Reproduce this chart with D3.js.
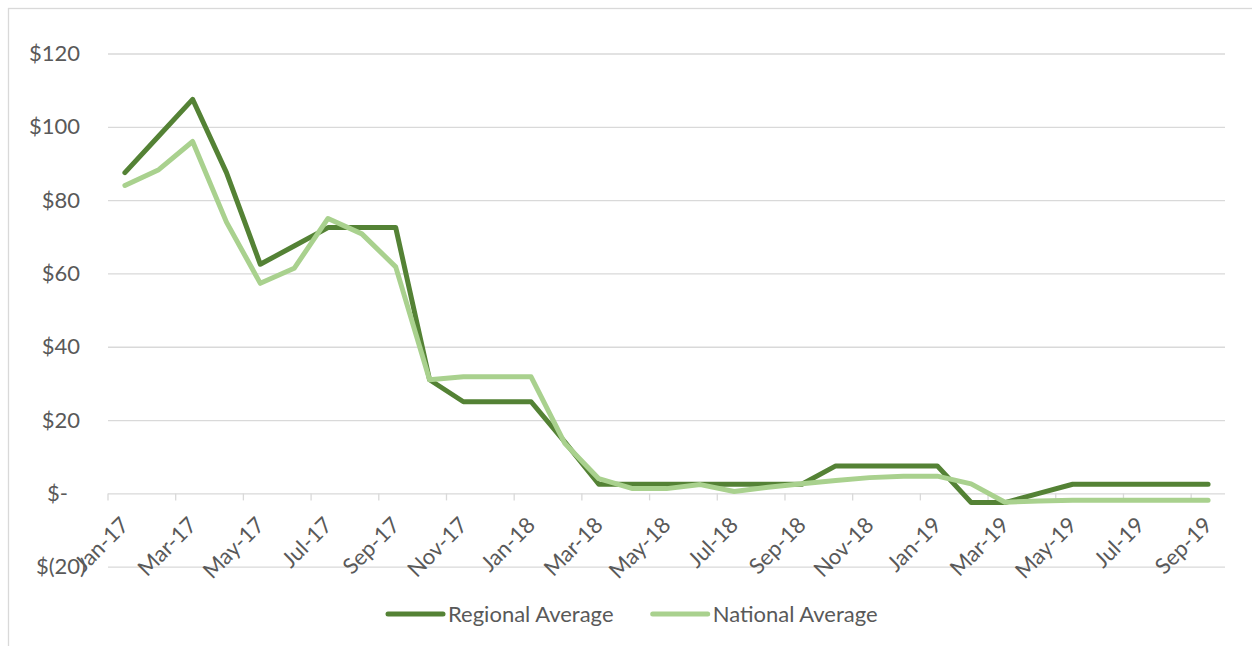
<!DOCTYPE html>
<html>
<head>
<meta charset="utf-8">
<script src="https://cdn.jsdelivr.net/npm/d3@7"></script>
<style>
  html, body { margin: 0; padding: 0; background: #fff; }
  svg { display: block; font-family: Lato, "Open Sans", sans-serif; }
</style>
</head>
<body>
<div id="chart"></div>
<script>
const months = [
  'Jan-17', 'Feb-17', 'Mar-17', 'Apr-17', 'May-17', 'Jun-17', 'Jul-17', 'Aug-17', 'Sep-17', 'Oct-17', 'Nov-17', 'Dec-17',
  'Jan-18', 'Feb-18', 'Mar-18', 'Apr-18', 'May-18', 'Jun-18', 'Jul-18', 'Aug-18', 'Sep-18', 'Oct-18', 'Nov-18', 'Dec-18',
  'Jan-19', 'Feb-19', 'Mar-19', 'Apr-19', 'May-19', 'Jun-19', 'Jul-19', 'Aug-19', 'Sep-19'
];

const regional = [
  87.5, 97.5, 107.5, 87.5, 62.5, 67.5, 72.5, 72.5, 72.5, 31, 25, 25,
  25, 14, 2.5, 2.5, 2.5, 2.5, 2.5, 2.5, 2.5, 7.5, 7.5, 7.5,
  7.5, -2.5, -2.5, 0, 2.5, 2.5, 2.5, 2.5, 2.5
];

const national = [
  84, 88.3, 96, 74, 57.3, 61.4, 75, 70.8, 61.8, 31, 31.8, 31.8,
  31.8, 13.6, 4, 1.3, 1.3, 2.4, 0.5, 1.7, 2.6, 3.5, 4.3, 4.7,
  4.7, 2.6, -2.4, -2.1, -1.9, -1.9, -1.9, -1.9, -1.9
];

const yTicks = [-20, 0, 20, 40, 60, 80, 100, 120];

const seriesNames = ['Regional Average', 'National Average'];
const seriesColors = ['#548235', '#A9D18E'];

const width = 1252;
const height = 646;
const margin = { left: 108, right: 27, top: 53.5, bottom: 79.3 };
const fontSize = '22px';

const svg = d3.select('#chart')
  .append('svg')
  .attr('width', width)
  .attr('height', height);

// chart area border (runs off the right / bottom edge like the original)
svg.append('rect')
  .attr('x', 8.5)
  .attr('y', 8.5)
  .attr('width', width + 20)
  .attr('height', height + 20)
  .attr('fill', 'none')
  .attr('stroke', '#d9d9d9')
  .attr('stroke-width', 1.3);

const xScale = d3.scaleBand()
  .domain(months)
  .range([margin.left, width - margin.right])
  .padding(0);

const yScale = d3.scaleLinear()
  .domain([-20, 120])
  .range([height - margin.bottom, margin.top]);

// gridlines + y labels
const yAxis = d3.axisLeft(yScale)
  .tickValues(yTicks)
  .tickSize(-(width - margin.right - margin.left))
  .tickPadding(0)
  .tickFormat(d => d === 0 ? '$-' : d < 0 ? '$(' + Math.abs(d) + ')' : '$' + d);

const yG = svg.append('g')
  .attr('transform', `translate(${margin.left},0)`)
  .call(yAxis);

yG.select('.domain').remove();
yG.selectAll('.tick line')
  .attr('stroke', '#d9d9d9')
  .attr('stroke-width', 1.3);
yG.selectAll('.tick text')
  .attr('x', d => d === 0 ? -40 : d < 0 ? -22 : -28)
  .attr('fill', '#595959')
  .style('font-size', fontSize)
  .style('font-family', 'Lato, sans-serif');

// category tick marks on the zero line, every second boundary
const y0 = yScale(0);
svg.append('g')
  .selectAll('line')
  .data(months.filter((m, i) => i % 2 === 0))
  .enter()
  .append('line')
  .attr('x1', d => xScale(d))
  .attr('x2', d => xScale(d))
  .attr('y1', y0)
  .attr('y2', y0 + 7)
  .attr('stroke', '#d9d9d9')
  .attr('stroke-width', 1.3);

// x labels, rotated, end of text on the category centre
const half = xScale.bandwidth() / 2;
svg.append('g')
  .selectAll('text')
  .data(months.filter((m, i) => i % 2 === 0))
  .enter()
  .append('text')
  .attr('transform', d => `translate(${xScale(d) + half},521) rotate(-45)`)
  .attr('text-anchor', 'end')
  .attr('dy', '0.35em')
  .attr('fill', '#595959')
  .style('font-size', fontSize)
  .text(d => d);

// lines
const line = d3.line()
  .x((d, i) => xScale(months[i]) + half)
  .y(d => yScale(d));

[regional, national].forEach((vals, k) => {
  svg.append('path')
    .datum(vals)
    .attr('d', line)
    .attr('fill', 'none')
    .attr('stroke', seriesColors[k])
    .attr('stroke-width', 5)
    .attr('stroke-linejoin', 'round')
    .attr('stroke-linecap', 'round');
});

// legend
const legendX = [388, 652.7];
const legend = svg.append('g');
seriesNames.forEach((name, k) => {
  legend.append('line')
    .attr('x1', legendX[k])
    .attr('x2', legendX[k] + 55)
    .attr('y1', 614)
    .attr('y2', 614)
    .attr('stroke', seriesColors[k])
    .attr('stroke-width', 5)
    .attr('stroke-linecap', 'round');
  legend.append('text')
    .attr('x', legendX[k] + 60)
    .attr('y', 614)
    .attr('dy', '0.35em')
    .attr('fill', '#595959')
    .style('font-size', fontSize)
    .text(name);
});
</script>
</body>
</html>
